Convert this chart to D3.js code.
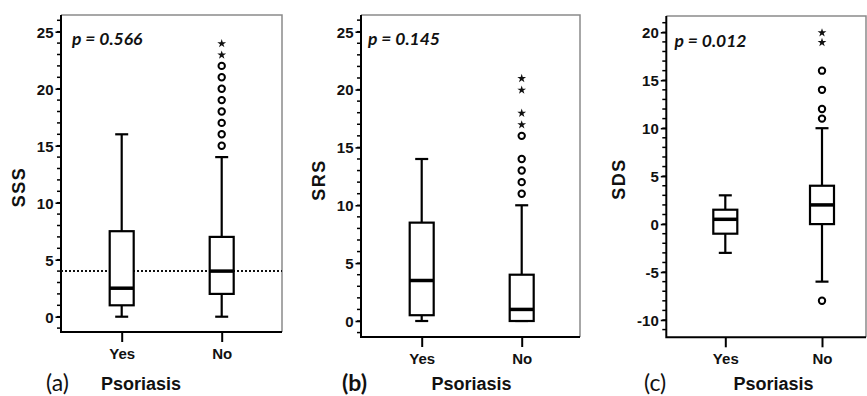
<!DOCTYPE html>
<html>
<head>
<meta charset="utf-8">
<script src="https://cdn.jsdelivr.net/npm/d3@7"></script>
<style>
  html, body { margin: 0; padding: 0; background: #fff; }
  svg { display: block; }
</style>
</head>
<body>
<div id="chart"></div>
<script>
(function () {
  "use strict";

  // ---- data ----
  const groups = ["Yes", "No"];
  const panelLetters = ["(a)", "(b)", "(c)"];
  const yTitles = ["SSS", "SRS", "SDS"];
  const pValues = ["p = 0.566", "p = 0.145", "p = 0.012"];
  const yTicks = [
    [0, 5, 10, 15, 20, 25],
    [0, 5, 10, 15, 20, 25],
    [-10, -5, 0, 5, 10, 15, 20]
  ];

  // five-number summaries per panel: [Yes, No]
  const sssBoxes = [
    { lo: 0, q1: 1, med: 2.5, q3: 7.5, hi: 16 },
    { lo: 0, q1: 2, med: 4, q3: 7, hi: 14 }
  ];
  const srsBoxes = [
    { lo: 0, q1: 0.5, med: 3.5, q3: 8.5, hi: 14 },
    { lo: 0, q1: 0, med: 1, q3: 4, hi: 10 }
  ];
  const sdsBoxes = [
    { lo: -3, q1: -1, med: 0.5, q3: 1.5, hi: 3 },
    { lo: -6, q1: 0, med: 2, q3: 4, hi: 10 }
  ];

  // outliers (only in the "No" group)
  const sssCircles = [15, 16, 17, 18, 19, 20, 21, 22];
  const sssStars = [23, 24];
  const srsCircles = [11, 12, 13, 14, 16];
  const srsStars = [17, 18, 20, 21];
  const sdsCircles = [-8, 11, 12, 14, 16];
  const sdsStars = [19, 20];

  const sssCutoff = 4; // dotted reference line in (a)

  const boxes = [sssBoxes, srsBoxes, sdsBoxes];
  const circles = [sssCircles, srsCircles, sdsCircles];
  const stars = [sssStars, srsStars, sdsStars];

  // ---- layout (pixels) ----
  const W = 867, H = 396;
  const layout = [
    { left: 61, right: 282, top: 15, bottom: 332, x: [121.7, 221.7], yDom: [0, 25], yPx: [316.7, 31.7],
      pX: 72, pY: 45, titleX: 18.5, titleY: 187, letterX: 46, psX: 141, letterBold: false },
    { left: 361, right: 580, top: 15, bottom: 337, x: [421.7, 521.7], yDom: [0, 25], yPx: [321, 31.7],
      pX: 368, pY: 45, titleX: 319, titleY: 180, letterX: 342, psX: 471.5, letterBold: true },
    { left: 666.3, right: 866, top: 16, bottom: 337.3, x: [725.3, 822], yDom: [-10, 20], yPx: [320, 32.3],
      pX: 674.5, pY: 46.5, titleX: 618.5, titleY: 179, letterX: 644, psX: 773.5, letterBold: false }
  ];

  const FONT = "'Liberation Sans', Arial, sans-serif";
  const ITAL = "Lato, 'Open Sans', sans-serif";

  const svg = d3.select("#chart").append("svg")
    .attr("width", W).attr("height", H)
    .attr("viewBox", `0 0 ${W} ${H}`);

  svg.append("rect").attr("width", W).attr("height", H).attr("fill", "#fff");

  const star = d3.symbol().type(d3.symbolStar).size(24);

  layout.forEach((L, i) => {
    const g = svg.append("g");

    const y = d3.scaleLinear().domain(L.yDom).range(L.yPx);
    const x = d3.scalePoint().domain(groups).range(L.x);

    // grey top & right frame
    g.append("path")
      .attr("d", `M${L.left},${L.top}H${L.right}V${L.bottom}`)
      .attr("fill", "none")
      .attr("stroke", "#8a8a8a")
      .attr("stroke-width", 1.5);

    // minor ticks every unit
    const lo = Math.ceil(y.invert(L.bottom)), hi = Math.floor(y.invert(L.top));
    g.selectAll("line.minor")
      .data(d3.range(lo, hi + 1))
      .enter().append("line")
      .attr("class", "minor")
      .attr("x1", L.left - 4).attr("x2", L.left)
      .attr("y1", (d) => y(d)).attr("y2", (d) => y(d))
      .attr("stroke", "#000").attr("stroke-width", 1.5);

    // y axis
    const yAxis = d3.axisLeft(y).tickValues(yTicks[i]).tickSize(5.5).tickPadding(2)
      .tickFormat((d) => String(d));
    const ya = g.append("g").attr("transform", `translate(${L.left},0)`).call(yAxis);
    ya.select(".domain").remove();
    ya.selectAll(".tick line").attr("stroke", "#000").attr("stroke-width", 1.6);
    ya.selectAll(".tick text")
      .attr("font-family", FONT).attr("font-size", 15).attr("font-weight", "bold")
      .attr("fill", "#111").attr("dy", "0.36em");

    // x axis
    const xAxis = d3.axisBottom(x).tickSize(10).tickPadding(6);
    const xa = g.append("g").attr("transform", `translate(0,${L.bottom})`).call(xAxis);
    xa.select(".domain").remove();
    xa.selectAll(".tick line").attr("stroke", "#000").attr("stroke-width", 2);
    xa.selectAll(".tick text")
      .attr("font-family", FONT).attr("font-size", 15).attr("font-weight", "bold")
      .attr("fill", "#111");

    // black left & bottom spines
    g.append("path")
      .attr("d", `M${L.left},${L.top}V${L.bottom}H${L.right}`)
      .attr("fill", "none")
      .attr("stroke", "#000")
      .attr("stroke-width", 2);

    if (i === 0) {
      g.append("line")
        .attr("x1", L.left).attr("x2", L.right)
        .attr("y1", y(sssCutoff)).attr("y2", y(sssCutoff))
        .attr("stroke", "#111").attr("stroke-width", 2)
        .attr("stroke-dasharray", "2,2");
    }

    // boxplots
    const bw = 24, cap = 13;
    boxes[i].forEach((b, j) => {
      const cx = x(groups[j]);
      const bg = g.append("g").attr("stroke", "#000").attr("fill", "none");
      bg.append("line").attr("x1", cx).attr("x2", cx)
        .attr("y1", y(b.hi)).attr("y2", y(b.q3)).attr("stroke-width", 2.2);
      bg.append("line").attr("x1", cx).attr("x2", cx)
        .attr("y1", y(b.q1)).attr("y2", y(b.lo)).attr("stroke-width", 2.2);
      [b.hi, b.lo].forEach((v) => {
        bg.append("line").attr("x1", cx - cap / 2).attr("x2", cx + cap / 2)
          .attr("y1", y(v)).attr("y2", y(v)).attr("stroke-width", 2.2);
      });
      bg.append("rect")
        .attr("x", cx - bw / 2).attr("width", bw)
        .attr("y", y(b.q3)).attr("height", y(b.q1) - y(b.q3))
        .attr("fill", "#fff").attr("stroke-width", 2.2);
      bg.append("line").attr("x1", cx - bw / 2).attr("x2", cx + bw / 2)
        .attr("y1", y(b.med)).attr("y2", y(b.med)).attr("stroke-width", 3.5);
    });

    // outliers
    const ox = x("No");
    g.selectAll("circle.out")
      .data(circles[i])
      .enter().append("circle")
      .attr("class", "out")
      .attr("cx", ox).attr("cy", (d) => y(d))
      .attr("r", 3.2)
      .attr("fill", "#fff").attr("stroke", "#000").attr("stroke-width", 2);
    g.selectAll("path.star")
      .data(stars[i])
      .enter().append("path")
      .attr("class", "star")
      .attr("d", star)
      .attr("transform", (d) => `translate(${ox},${y(d) + 0.5})`)
      .attr("fill", "#111");

    // texts
    g.append("text")
      .attr("x", L.pX).attr("y", L.pY)
      .attr("font-family", ITAL).attr("font-size", 17.5)
      .attr("font-style", "italic").attr("font-weight", "bold")
      .attr("fill", "#111")
      .text(pValues[i]);

    g.append("text")
      .attr("transform", `translate(${L.titleX},${L.titleY}) rotate(-90)`)
      .attr("text-anchor", "middle").attr("dy", "0.36em")
      .attr("font-family", FONT).attr("font-size", 18).attr("font-weight", "bold")
      .attr("letter-spacing", 1.5)
      .attr("fill", "#111")
      .text(yTitles[i]);

    g.append("text")
      .attr("x", L.psX).attr("y", 390)
      .attr("text-anchor", "middle")
      .attr("font-family", FONT).attr("font-size", 18).attr("font-weight", "bold")
      .attr("fill", "#111")
      .text("Psoriasis");

    g.append("text")
      .attr("x", L.letterX).attr("y", 391)
      .attr("font-family", ITAL).attr("font-size", 23)
      .attr("font-weight", L.letterBold ? "bold" : "normal")
      .attr("fill", "#111")
      .text(panelLetters[i]);
  });
})();
</script>
</body>
</html>
